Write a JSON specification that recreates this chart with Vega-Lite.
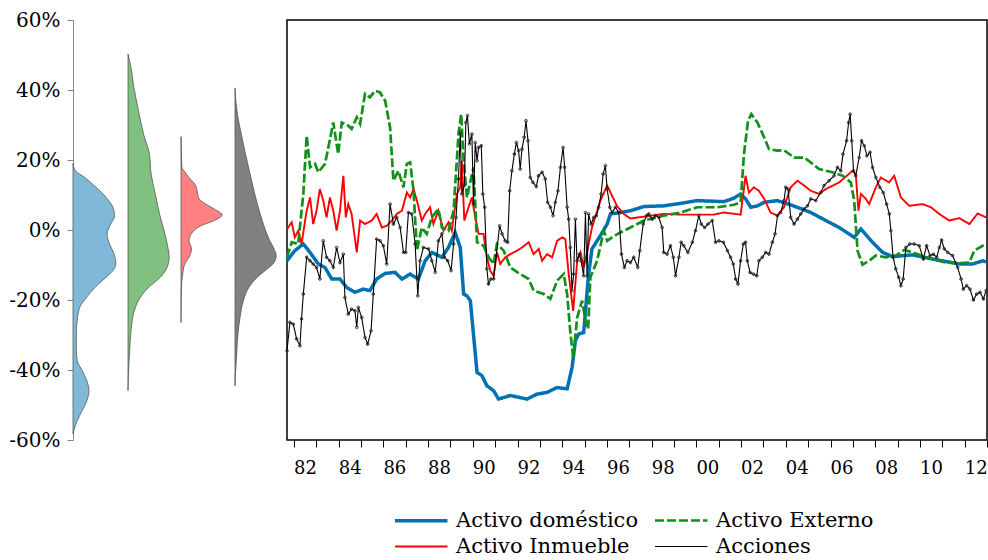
{
"$schema": "https://vega.github.io/schema/vega-lite/v6.json",
"padding": {"left": 8, "top": 10, "right": 0, "bottom": 0},
"background": "white",
"spacing": 0,
"bounds": "flush",
"config": {
  "font": "DejaVu Serif",
  "view": {"stroke": null},
  "axis": {"grid": false, "labelFont": "DejaVu Serif", "labelColor": "black"},
  "legend": {"labelFont": "DejaVu Serif"}
},
"datasets": {
  "vD": [{"v":-0.582,"d":0},{"v":-0.573,"d":0.02},{"v":-0.545,"d":0.10},{"v":-0.516,"d":0.22},{"v":-0.488,"d":0.33},{"v":-0.459,"d":0.38},{"v":-0.431,"d":0.33},{"v":-0.402,"d":0.22},{"v":-0.373,"d":0.10},{"v":-0.345,"d":0.08},{"v":-0.297,"d":0.08},{"v":-0.259,"d":0.10},{"v":-0.221,"d":0.16},{"v":-0.193,"d":0.32},{"v":-0.164,"d":0.52},{"v":-0.135,"d":0.79},{"v":-0.116,"d":0.95},{"v":-0.097,"d":1.02},{"v":-0.069,"d":0.98},{"v":-0.040,"d":0.87},{"v":-0.011,"d":0.81},{"v":0.017,"d":0.90},{"v":0.041,"d":0.99},{"v":0.065,"d":0.95},{"v":0.093,"d":0.79},{"v":0.122,"d":0.55},{"v":0.150,"d":0.28},{"v":0.169,"d":0.06},{"v":0.19,"d":0}],
  "vE": [{"v":-0.459,"d":0},{"v":-0.411,"d":0.01},{"v":-0.345,"d":0.04},{"v":-0.278,"d":0.08},{"v":-0.231,"d":0.15},{"v":-0.193,"d":0.29},{"v":-0.164,"d":0.49},{"v":-0.135,"d":0.77},{"v":-0.107,"d":0.93},{"v":-0.078,"d":0.98},{"v":-0.050,"d":0.95},{"v":-0.002,"d":0.86},{"v":0.046,"d":0.75},{"v":0.103,"d":0.65},{"v":0.160,"d":0.55},{"v":0.217,"d":0.51},{"v":0.274,"d":0.37},{"v":0.341,"d":0.25},{"v":0.407,"d":0.14},{"v":0.465,"d":0.07},{"v":0.503,"d":0}],
  "vI": [{"v":-0.264,"d":0},{"v":-0.164,"d":0.01},{"v":-0.126,"d":0.04},{"v":-0.097,"d":0.09},{"v":-0.078,"d":0.19},{"v":-0.054,"d":0.25},{"v":-0.031,"d":0.19},{"v":-0.007,"d":0.27},{"v":0.012,"d":0.47},{"v":0.027,"d":0.79},{"v":0.043,"d":0.98},{"v":0.060,"d":0.79},{"v":0.074,"d":0.59},{"v":0.089,"d":0.43},{"v":0.107,"d":0.39},{"v":0.127,"d":0.35},{"v":0.150,"d":0.19},{"v":0.169,"d":0.07},{"v":0.179,"d":0.02},{"v":0.227,"d":0.01},{"v":0.267,"d":0}],
  "vA": [{"v":-0.445,"d":0},{"v":-0.411,"d":0.01},{"v":-0.354,"d":0.04},{"v":-0.297,"d":0.07},{"v":-0.250,"d":0.12},{"v":-0.202,"d":0.20},{"v":-0.164,"d":0.33},{"v":-0.135,"d":0.53},{"v":-0.111,"d":0.77},{"v":-0.093,"d":0.93},{"v":-0.073,"d":0.98},{"v":-0.054,"d":0.93},{"v":-0.031,"d":0.83},{"v":-0.002,"d":0.73},{"v":0.046,"d":0.60},{"v":0.103,"d":0.47},{"v":0.160,"d":0.36},{"v":0.217,"d":0.25},{"v":0.274,"d":0.15},{"v":0.322,"d":0.07},{"v":0.369,"d":0.02},{"v":0.406,"d":0}],
  "ts": [
{"s":"D","t":1981.69,"v":-0.088},{"s":"D","t":1982.04,"v":-0.059},{"s":"D","t":1982.42,"v":-0.040},{"s":"D","t":1982.72,"v":-0.064},{"s":"D","t":1983.09,"v":-0.097},{"s":"D","t":1983.39,"v":-0.107},{"s":"D","t":1983.69,"v":-0.140},{"s":"D","t":1984.06,"v":-0.140},{"s":"D","t":1984.36,"v":-0.164},{"s":"D","t":1984.73,"v":-0.178},{"s":"D","t":1985.10,"v":-0.169},{"s":"D","t":1985.40,"v":-0.173},{"s":"D","t":1985.70,"v":-0.140},{"s":"D","t":1986.08,"v":-0.124},{"s":"D","t":1986.52,"v":-0.121},{"s":"D","t":1986.83,"v":-0.140},{"s":"D","t":1987.20,"v":-0.126},{"s":"D","t":1987.57,"v":-0.140},{"s":"D","t":1987.87,"v":-0.088},{"s":"D","t":1988.17,"v":-0.064},{"s":"D","t":1988.62,"v":-0.078},{"s":"D","t":1988.91,"v":-0.050},{"s":"D","t":1989.21,"v":-0.007},{"s":"D","t":1989.44,"v":-0.050},{"s":"D","t":1989.59,"v":-0.183},{"s":"D","t":1989.74,"v":-0.188},{"s":"D","t":1989.89,"v":-0.202},{"s":"D","t":1990.19,"v":-0.407},{"s":"D","t":1990.41,"v":-0.416},{"s":"D","t":1990.63,"v":-0.445},{"s":"D","t":1990.93,"v":-0.459},{"s":"D","t":1991.15,"v":-0.483},{"s":"D","t":1991.68,"v":-0.473},{"s":"D","t":1992.43,"v":-0.483},{"s":"D","t":1992.87,"v":-0.469},{"s":"D","t":1993.32,"v":-0.464},{"s":"D","t":1993.77,"v":-0.450},{"s":"D","t":1994.22,"v":-0.454},{"s":"D","t":1994.44,"v":-0.393},{"s":"D","t":1994.59,"v":-0.316},{"s":"D","t":1994.74,"v":-0.297},{"s":"D","t":1994.96,"v":-0.293},{"s":"D","t":1995.18,"v":-0.126},{"s":"D","t":1995.33,"v":-0.054},{"s":"D","t":1995.71,"v":-0.016},{"s":"D","t":1996.01,"v":0.017},{"s":"D","t":1996.16,"v":0.046},{"s":"D","t":1996.60,"v":0.050},{"s":"D","t":1997.05,"v":0.055},{"s":"D","t":1997.65,"v":0.067},{"s":"D","t":1998.54,"v":0.069},{"s":"D","t":1999.29,"v":0.076},{"s":"D","t":2000.04,"v":0.084},{"s":"D","t":2001.23,"v":0.081},{"s":"D","t":2001.68,"v":0.091},{"s":"D","t":2001.98,"v":0.103},{"s":"D","t":2002.20,"v":0.089},{"s":"D","t":2002.43,"v":0.065},{"s":"D","t":2002.73,"v":0.069},{"s":"D","t":2003.03,"v":0.079},{"s":"D","t":2003.62,"v":0.084},{"s":"D","t":2004.22,"v":0.072},{"s":"D","t":2005.12,"v":0.050},{"s":"D","t":2005.79,"v":0.027},{"s":"D","t":2006.39,"v":0.007},{"s":"D","t":2007.06,"v":-0.021},{"s":"D","t":2007.36,"v":0.003},{"s":"D","t":2007.88,"v":-0.035},{"s":"D","t":2008.33,"v":-0.064},{"s":"D","t":2008.78,"v":-0.076},{"s":"D","t":2009.67,"v":-0.071},{"s":"D","t":2010.57,"v":-0.083},{"s":"D","t":2011.76,"v":-0.097},{"s":"D","t":2012.36,"v":-0.097},{"s":"D","t":2012.81,"v":-0.088},{"s":"D","t":2012.96,"v":-0.091},
{"s":"I","t":1981.69,"v":0.003},{"s":"I","t":1981.90,"v":0.022},{"s":"I","t":1982.04,"v":-0.021},{"s":"I","t":1982.19,"v":-0.002},{"s":"I","t":1982.34,"v":-0.040},{"s":"I","t":1982.57,"v":0.055},{"s":"I","t":1982.72,"v":0.093},{"s":"I","t":1982.86,"v":0.017},{"s":"I","t":1983.01,"v":0.055},{"s":"I","t":1983.16,"v":0.117},{"s":"I","t":1983.31,"v":0.084},{"s":"I","t":1983.46,"v":0.036},{"s":"I","t":1983.61,"v":0.093},{"s":"I","t":1983.76,"v":0.055},{"s":"I","t":1983.91,"v":-0.002},{"s":"I","t":1984.06,"v":0.055},{"s":"I","t":1984.21,"v":0.155},{"s":"I","t":1984.32,"v":0.036},{"s":"I","t":1984.43,"v":0.074},{"s":"I","t":1984.58,"v":0.046},{"s":"I","t":1984.81,"v":-0.064},{"s":"I","t":1984.96,"v":0.027},{"s":"I","t":1985.18,"v":0.017},{"s":"I","t":1985.48,"v":0.027},{"s":"I","t":1985.70,"v":0.046},{"s":"I","t":1985.93,"v":0.007},{"s":"I","t":1986.15,"v":0.012},{"s":"I","t":1986.38,"v":0.027},{"s":"I","t":1986.60,"v":0.046},{"s":"I","t":1986.83,"v":0.055},{"s":"I","t":1987.05,"v":0.107},{"s":"I","t":1987.20,"v":0.093},{"s":"I","t":1987.35,"v":0.117},{"s":"I","t":1987.50,"v":0.084},{"s":"I","t":1987.72,"v":0.027},{"s":"I","t":1987.87,"v":0.046},{"s":"I","t":1988.09,"v":0.065},{"s":"I","t":1988.24,"v":0.017},{"s":"I","t":1988.46,"v":0.055},{"s":"I","t":1988.69,"v":-0.002},{"s":"I","t":1988.91,"v":0.022},{"s":"I","t":1989.06,"v":-0.002},{"s":"I","t":1989.29,"v":0.103},{"s":"I","t":1989.44,"v":0.122},{"s":"I","t":1989.51,"v":0.198},{"s":"I","t":1989.62,"v":0.027},{"s":"I","t":1989.81,"v":0.065},{"s":"I","t":1989.96,"v":0.093},{"s":"I","t":1990.11,"v":0.036},{"s":"I","t":1990.26,"v":-0.011},{"s":"I","t":1990.48,"v":-0.011},{"s":"I","t":1990.63,"v":-0.078},{"s":"I","t":1990.78,"v":-0.116},{"s":"I","t":1990.93,"v":-0.131},{"s":"I","t":1991.08,"v":-0.064},{"s":"I","t":1991.23,"v":-0.097},{"s":"I","t":1991.45,"v":-0.078},{"s":"I","t":1991.68,"v":-0.069},{"s":"I","t":1991.98,"v":-0.059},{"s":"I","t":1992.20,"v":-0.050},{"s":"I","t":1992.50,"v":-0.035},{"s":"I","t":1992.72,"v":-0.069},{"s":"I","t":1992.95,"v":-0.054},{"s":"I","t":1993.10,"v":-0.088},{"s":"I","t":1993.32,"v":-0.069},{"s":"I","t":1993.55,"v":-0.078},{"s":"I","t":1993.77,"v":-0.031},{"s":"I","t":1994.00,"v":-0.021},{"s":"I","t":1994.14,"v":-0.026},{"s":"I","t":1994.29,"v":-0.126},{"s":"I","t":1994.49,"v":-0.231},{"s":"I","t":1994.67,"v":-0.088},{"s":"I","t":1994.82,"v":-0.064},{"s":"I","t":1994.96,"v":-0.107},{"s":"I","t":1995.11,"v":-0.064},{"s":"I","t":1995.33,"v":0.007},{"s":"I","t":1995.71,"v":0.084},{"s":"I","t":1996.01,"v":0.127},{"s":"I","t":1996.23,"v":0.098},{"s":"I","t":1996.45,"v":0.069},{"s":"I","t":1996.75,"v":0.046},{"s":"I","t":1997.05,"v":0.033},{"s":"I","t":1997.65,"v":0.038},{"s":"I","t":1998.54,"v":0.046},{"s":"I","t":1999.29,"v":0.044},{"s":"I","t":2000.04,"v":0.044},{"s":"I","t":2000.78,"v":0.044},{"s":"I","t":2001.23,"v":0.050},{"s":"I","t":2001.98,"v":0.044},{"s":"I","t":2002.20,"v":0.155},{"s":"I","t":2002.35,"v":0.107},{"s":"I","t":2002.57,"v":0.122},{"s":"I","t":2002.80,"v":0.112},{"s":"I","t":2003.03,"v":0.089},{"s":"I","t":2003.32,"v":0.050},{"s":"I","t":2003.62,"v":0.041},{"s":"I","t":2003.92,"v":0.065},{"s":"I","t":2004.22,"v":0.122},{"s":"I","t":2004.52,"v":0.141},{"s":"I","t":2004.82,"v":0.127},{"s":"I","t":2005.12,"v":0.112},{"s":"I","t":2005.49,"v":0.103},{"s":"I","t":2005.79,"v":0.117},{"s":"I","t":2006.39,"v":0.136},{"s":"I","t":2006.98,"v":0.169},{"s":"I","t":2007.13,"v":0.160},{"s":"I","t":2007.25,"v":0.055},{"s":"I","t":2007.36,"v":0.103},{"s":"I","t":2007.58,"v":0.089},{"s":"I","t":2007.73,"v":0.074},{"s":"I","t":2008.03,"v":0.122},{"s":"I","t":2008.25,"v":0.150},{"s":"I","t":2008.62,"v":0.136},{"s":"I","t":2008.85,"v":0.155},{"s":"I","t":2009.15,"v":0.093},{"s":"I","t":2009.52,"v":0.069},{"s":"I","t":2010.12,"v":0.074},{"s":"I","t":2010.49,"v":0.065},{"s":"I","t":2010.86,"v":0.046},{"s":"I","t":2011.31,"v":0.027},{"s":"I","t":2011.76,"v":0.034},{"s":"I","t":2012.21,"v":0.017},{"s":"I","t":2012.58,"v":0.047},{"s":"I","t":2012.96,"v":0.036},
{"s":"E","t":1981.69,"v":-0.078},{"s":"E","t":1981.90,"v":-0.035},{"s":"E","t":1982.19,"v":-0.040},{"s":"E","t":1982.42,"v":0.103},{"s":"E","t":1982.57,"v":0.269},{"s":"E","t":1982.72,"v":0.179},{"s":"E","t":1982.94,"v":0.189},{"s":"E","t":1983.09,"v":0.165},{"s":"E","t":1983.39,"v":0.189},{"s":"E","t":1983.54,"v":0.236},{"s":"E","t":1983.76,"v":0.307},{"s":"E","t":1983.98,"v":0.217},{"s":"E","t":1984.14,"v":0.307},{"s":"E","t":1984.43,"v":0.298},{"s":"E","t":1984.58,"v":0.289},{"s":"E","t":1984.81,"v":0.322},{"s":"E","t":1984.96,"v":0.303},{"s":"E","t":1985.18,"v":0.389},{"s":"E","t":1985.40,"v":0.379},{"s":"E","t":1985.63,"v":0.398},{"s":"E","t":1985.85,"v":0.393},{"s":"E","t":1986.08,"v":0.369},{"s":"E","t":1986.30,"v":0.293},{"s":"E","t":1986.45,"v":0.141},{"s":"E","t":1986.67,"v":0.169},{"s":"E","t":1986.90,"v":0.122},{"s":"E","t":1987.05,"v":0.189},{"s":"E","t":1987.20,"v":0.193},{"s":"E","t":1987.35,"v":0.112},{"s":"E","t":1987.50,"v":-0.059},{"s":"E","t":1987.72,"v":0.007},{"s":"E","t":1987.94,"v":-0.011},{"s":"E","t":1988.17,"v":0.036},{"s":"E","t":1988.46,"v":0.060},{"s":"E","t":1988.62,"v":0.007},{"s":"E","t":1988.91,"v":-0.002},{"s":"E","t":1989.14,"v":0.055},{"s":"E","t":1989.36,"v":0.274},{"s":"E","t":1989.48,"v":0.331},{"s":"E","t":1989.59,"v":0.198},{"s":"E","t":1989.74,"v":0.093},{"s":"E","t":1990.03,"v":0.179},{"s":"E","t":1990.19,"v":-0.035},{"s":"E","t":1990.48,"v":-0.045},{"s":"E","t":1990.71,"v":-0.078},{"s":"E","t":1990.93,"v":-0.097},{"s":"E","t":1991.08,"v":-0.040},{"s":"E","t":1991.38,"v":-0.059},{"s":"E","t":1991.68,"v":-0.107},{"s":"E","t":1992.13,"v":-0.126},{"s":"E","t":1992.50,"v":-0.140},{"s":"E","t":1992.72,"v":-0.173},{"s":"E","t":1993.17,"v":-0.183},{"s":"E","t":1993.47,"v":-0.197},{"s":"E","t":1993.77,"v":-0.145},{"s":"E","t":1994.07,"v":-0.126},{"s":"E","t":1994.22,"v":-0.183},{"s":"E","t":1994.37,"v":-0.297},{"s":"E","t":1994.49,"v":-0.364},{"s":"E","t":1994.67,"v":-0.250},{"s":"E","t":1994.89,"v":-0.202},{"s":"E","t":1995.04,"v":-0.259},{"s":"E","t":1995.16,"v":-0.283},{"s":"E","t":1995.26,"v":-0.135},{"s":"E","t":1995.56,"v":-0.088},{"s":"E","t":1995.86,"v":-0.002},{"s":"E","t":1996.01,"v":-0.031},{"s":"E","t":1996.23,"v":-0.021},{"s":"E","t":1996.60,"v":-0.007},{"s":"E","t":1997.05,"v":0.007},{"s":"E","t":1997.65,"v":0.027},{"s":"E","t":1998.54,"v":0.041},{"s":"E","t":1999.29,"v":0.050},{"s":"E","t":2000.04,"v":0.065},{"s":"E","t":2000.94,"v":0.065},{"s":"E","t":2001.68,"v":0.072},{"s":"E","t":2001.98,"v":0.079},{"s":"E","t":2002.13,"v":0.217},{"s":"E","t":2002.31,"v":0.312},{"s":"E","t":2002.46,"v":0.331},{"s":"E","t":2002.73,"v":0.307},{"s":"E","t":2003.03,"v":0.265},{"s":"E","t":2003.25,"v":0.231},{"s":"E","t":2003.62,"v":0.227},{"s":"E","t":2003.92,"v":0.228},{"s":"E","t":2004.37,"v":0.207},{"s":"E","t":2004.82,"v":0.207},{"s":"E","t":2005.12,"v":0.193},{"s":"E","t":2005.49,"v":0.174},{"s":"E","t":2006.09,"v":0.165},{"s":"E","t":2006.54,"v":0.155},{"s":"E","t":2006.91,"v":0.136},{"s":"E","t":2007.06,"v":0.084},{"s":"E","t":2007.21,"v":-0.059},{"s":"E","t":2007.43,"v":-0.099},{"s":"E","t":2007.73,"v":-0.088},{"s":"E","t":2008.03,"v":-0.073},{"s":"E","t":2008.48,"v":-0.078},{"s":"E","t":2008.93,"v":-0.073},{"s":"E","t":2009.30,"v":-0.057},{"s":"E","t":2009.67,"v":-0.064},{"s":"E","t":2010.27,"v":-0.078},{"s":"E","t":2011.16,"v":-0.093},{"s":"E","t":2011.76,"v":-0.095},{"s":"E","t":2012.21,"v":-0.093},{"s":"E","t":2012.43,"v":-0.059},{"s":"E","t":2012.81,"v":-0.045},{"s":"E","t":2012.96,"v":-0.040},
{"s":"A","t":1981.69,"v":-0.345},{"s":"A","t":1981.82,"v":-0.264},{"s":"A","t":1981.97,"v":-0.269},{"s":"A","t":1982.12,"v":-0.311},{"s":"A","t":1982.27,"v":-0.331},{"s":"A","t":1982.34,"v":-0.254},{"s":"A","t":1982.42,"v":-0.183},{"s":"A","t":1982.57,"v":-0.078},{"s":"A","t":1982.72,"v":-0.088},{"s":"A","t":1982.86,"v":-0.097},{"s":"A","t":1983.01,"v":-0.107},{"s":"A","t":1983.16,"v":-0.140},{"s":"A","t":1983.31,"v":-0.031},{"s":"A","t":1983.46,"v":-0.078},{"s":"A","t":1983.61,"v":-0.088},{"s":"A","t":1983.76,"v":-0.107},{"s":"A","t":1983.91,"v":-0.050},{"s":"A","t":1984.06,"v":-0.093},{"s":"A","t":1984.21,"v":-0.069},{"s":"A","t":1984.28,"v":-0.193},{"s":"A","t":1984.43,"v":-0.240},{"s":"A","t":1984.58,"v":-0.226},{"s":"A","t":1984.73,"v":-0.231},{"s":"A","t":1984.81,"v":-0.278},{"s":"A","t":1984.88,"v":-0.221},{"s":"A","t":1985.03,"v":-0.250},{"s":"A","t":1985.18,"v":-0.307},{"s":"A","t":1985.30,"v":-0.326},{"s":"A","t":1985.45,"v":-0.288},{"s":"A","t":1985.55,"v":-0.183},{"s":"A","t":1985.70,"v":-0.026},{"s":"A","t":1985.85,"v":-0.031},{"s":"A","t":1986.00,"v":-0.045},{"s":"A","t":1986.15,"v":-0.097},{"s":"A","t":1986.30,"v":0.074},{"s":"A","t":1986.45,"v":0.017},{"s":"A","t":1986.60,"v":0.036},{"s":"A","t":1986.75,"v":0.007},{"s":"A","t":1986.90,"v":-0.064},{"s":"A","t":1987.00,"v":-0.064},{"s":"A","t":1987.12,"v":0.050},{"s":"A","t":1987.27,"v":0.046},{"s":"A","t":1987.42,"v":-0.040},{"s":"A","t":1987.54,"v":-0.188},{"s":"A","t":1987.64,"v":-0.088},{"s":"A","t":1987.79,"v":-0.050},{"s":"A","t":1988.02,"v":-0.054},{"s":"A","t":1988.17,"v":-0.088},{"s":"A","t":1988.32,"v":-0.121},{"s":"A","t":1988.46,"v":-0.031},{"s":"A","t":1988.62,"v":-0.011},{"s":"A","t":1988.73,"v":-0.078},{"s":"A","t":1988.88,"v":-0.088},{"s":"A","t":1989.03,"v":-0.116},{"s":"A","t":1989.14,"v":-0.040},{"s":"A","t":1989.25,"v":0.036},{"s":"A","t":1989.36,"v":0.146},{"s":"A","t":1989.44,"v":0.279},{"s":"A","t":1989.51,"v":0.103},{"s":"A","t":1989.62,"v":0.127},{"s":"A","t":1989.69,"v":0.307},{"s":"A","t":1989.76,"v":0.327},{"s":"A","t":1989.85,"v":0.246},{"s":"A","t":1989.96,"v":0.274},{"s":"A","t":1990.03,"v":0.074},{"s":"A","t":1990.11,"v":0.250},{"s":"A","t":1990.19,"v":0.198},{"s":"A","t":1990.26,"v":0.236},{"s":"A","t":1990.38,"v":0.241},{"s":"A","t":1990.45,"v":0.103},{"s":"A","t":1990.53,"v":0.065},{"s":"A","t":1990.63,"v":-0.111},{"s":"A","t":1990.70,"v":-0.154},{"s":"A","t":1990.81,"v":-0.140},{"s":"A","t":1990.93,"v":-0.140},{"s":"A","t":1991.05,"v":-0.073},{"s":"A","t":1991.20,"v":0.012},{"s":"A","t":1991.31,"v":-0.011},{"s":"A","t":1991.45,"v":-0.031},{"s":"A","t":1991.56,"v":-0.035},{"s":"A","t":1991.65,"v":0.112},{"s":"A","t":1991.75,"v":0.169},{"s":"A","t":1991.86,"v":0.217},{"s":"A","t":1991.95,"v":0.250},{"s":"A","t":1992.05,"v":0.227},{"s":"A","t":1992.12,"v":0.174},{"s":"A","t":1992.20,"v":0.231},{"s":"A","t":1992.30,"v":0.265},{"s":"A","t":1992.38,"v":0.312},{"s":"A","t":1992.47,"v":0.255},{"s":"A","t":1992.57,"v":0.150},{"s":"A","t":1992.69,"v":0.136},{"s":"A","t":1992.84,"v":0.124},{"s":"A","t":1992.94,"v":0.155},{"s":"A","t":1993.10,"v":0.165},{"s":"A","t":1993.24,"v":0.146},{"s":"A","t":1993.35,"v":0.079},{"s":"A","t":1993.47,"v":0.065},{"s":"A","t":1993.59,"v":0.041},{"s":"A","t":1993.69,"v":0.079},{"s":"A","t":1993.81,"v":0.112},{"s":"A","t":1993.92,"v":0.179},{"s":"A","t":1994.04,"v":0.236},{"s":"A","t":1994.11,"v":0.179},{"s":"A","t":1994.22,"v":0.065},{"s":"A","t":1994.29,"v":0.031},{"s":"A","t":1994.36,"v":-0.050},{"s":"A","t":1994.44,"v":-0.173},{"s":"A","t":1994.51,"v":-0.126},{"s":"A","t":1994.59,"v":0.031},{"s":"A","t":1994.66,"v":-0.088},{"s":"A","t":1994.77,"v":-0.069},{"s":"A","t":1994.84,"v":-0.088},{"s":"A","t":1994.96,"v":-0.131},{"s":"A","t":1995.04,"v":0.050},{"s":"A","t":1995.11,"v":-0.131},{"s":"A","t":1995.18,"v":0.046},{"s":"A","t":1995.29,"v":0.017},{"s":"A","t":1995.41,"v":0.036},{"s":"A","t":1995.53,"v":0.041},{"s":"A","t":1995.63,"v":0.065},{"s":"A","t":1995.74,"v":0.103},{"s":"A","t":1995.83,"v":0.160},{"s":"A","t":1995.93,"v":0.184},{"s":"A","t":1996.01,"v":0.117},{"s":"A","t":1996.13,"v":0.065},{"s":"A","t":1996.23,"v":0.050},{"s":"A","t":1996.38,"v":0.065},{"s":"A","t":1996.53,"v":0.050},{"s":"A","t":1996.65,"v":-0.069},{"s":"A","t":1996.78,"v":-0.107},{"s":"A","t":1996.90,"v":-0.088},{"s":"A","t":1997.05,"v":-0.093},{"s":"A","t":1997.20,"v":-0.078},{"s":"A","t":1997.38,"v":-0.107},{"s":"A","t":1997.47,"v":-0.059},{"s":"A","t":1997.62,"v":0.017},{"s":"A","t":1997.77,"v":0.041},{"s":"A","t":1997.87,"v":0.046},{"s":"A","t":1998.02,"v":0.031},{"s":"A","t":1998.17,"v":0.041},{"s":"A","t":1998.32,"v":0.036},{"s":"A","t":1998.47,"v":0.007},{"s":"A","t":1998.54,"v":-0.064},{"s":"A","t":1998.69,"v":-0.069},{"s":"A","t":1998.84,"v":-0.045},{"s":"A","t":1998.97,"v":-0.078},{"s":"A","t":1999.07,"v":-0.131},{"s":"A","t":1999.22,"v":-0.078},{"s":"A","t":1999.32,"v":-0.035},{"s":"A","t":1999.44,"v":-0.045},{"s":"A","t":1999.62,"v":-0.064},{"s":"A","t":1999.82,"v":-0.035},{"s":"A","t":1999.96,"v":-0.002},{"s":"A","t":2000.11,"v":0.041},{"s":"A","t":2000.22,"v":0.017},{"s":"A","t":2000.37,"v":0.007},{"s":"A","t":2000.52,"v":0.017},{"s":"A","t":2000.71,"v":0.027},{"s":"A","t":2000.86,"v":-0.035},{"s":"A","t":2001.01,"v":-0.031},{"s":"A","t":2001.21,"v":-0.035},{"s":"A","t":2001.39,"v":-0.059},{"s":"A","t":2001.53,"v":-0.078},{"s":"A","t":2001.65,"v":-0.097},{"s":"A","t":2001.76,"v":-0.140},{"s":"A","t":2001.86,"v":-0.154},{"s":"A","t":2001.98,"v":-0.088},{"s":"A","t":2002.10,"v":-0.040},{"s":"A","t":2002.20,"v":-0.035},{"s":"A","t":2002.28,"v":-0.088},{"s":"A","t":2002.40,"v":-0.121},{"s":"A","t":2002.55,"v":-0.126},{"s":"A","t":2002.70,"v":-0.131},{"s":"A","t":2002.80,"v":-0.088},{"s":"A","t":2002.95,"v":-0.078},{"s":"A","t":2003.10,"v":-0.064},{"s":"A","t":2003.25,"v":-0.069},{"s":"A","t":2003.40,"v":-0.035},{"s":"A","t":2003.52,"v":-0.011},{"s":"A","t":2003.63,"v":0.041},{"s":"A","t":2003.77,"v":0.050},{"s":"A","t":2003.92,"v":0.084},{"s":"A","t":2004.00,"v":0.122},{"s":"A","t":2004.10,"v":0.117},{"s":"A","t":2004.22,"v":0.036},{"s":"A","t":2004.37,"v":0.017},{"s":"A","t":2004.52,"v":0.031},{"s":"A","t":2004.67,"v":0.046},{"s":"A","t":2004.82,"v":0.060},{"s":"A","t":2004.97,"v":0.069},{"s":"A","t":2005.12,"v":0.089},{"s":"A","t":2005.34,"v":0.084},{"s":"A","t":2005.56,"v":0.107},{"s":"A","t":2005.71,"v":0.127},{"s":"A","t":2005.94,"v":0.141},{"s":"A","t":2006.16,"v":0.155},{"s":"A","t":2006.31,"v":0.179},{"s":"A","t":2006.46,"v":0.169},{"s":"A","t":2006.56,"v":0.217},{"s":"A","t":2006.72,"v":0.255},{"s":"A","t":2006.81,"v":0.307},{"s":"A","t":2006.88,"v":0.331},{"s":"A","t":2006.95,"v":0.255},{"s":"A","t":2007.03,"v":0.169},{"s":"A","t":2007.13,"v":0.155},{"s":"A","t":2007.28,"v":0.207},{"s":"A","t":2007.39,"v":0.255},{"s":"A","t":2007.51,"v":0.241},{"s":"A","t":2007.63,"v":0.212},{"s":"A","t":2007.77,"v":0.222},{"s":"A","t":2007.88,"v":0.179},{"s":"A","t":2008.03,"v":0.150},{"s":"A","t":2008.21,"v":0.122},{"s":"A","t":2008.36,"v":0.107},{"s":"A","t":2008.51,"v":0.074},{"s":"A","t":2008.63,"v":0.046},{"s":"A","t":2008.70,"v":-0.002},{"s":"A","t":2008.80,"v":-0.078},{"s":"A","t":2008.92,"v":-0.111},{"s":"A","t":2009.05,"v":-0.135},{"s":"A","t":2009.15,"v":-0.159},{"s":"A","t":2009.25,"v":-0.140},{"s":"A","t":2009.37,"v":-0.050},{"s":"A","t":2009.55,"v":-0.040},{"s":"A","t":2009.74,"v":-0.040},{"s":"A","t":2009.97,"v":-0.045},{"s":"A","t":2010.15,"v":-0.083},{"s":"A","t":2010.30,"v":-0.045},{"s":"A","t":2010.45,"v":-0.073},{"s":"A","t":2010.60,"v":-0.069},{"s":"A","t":2010.75,"v":-0.078},{"s":"A","t":2010.87,"v":-0.050},{"s":"A","t":2010.97,"v":-0.029},{"s":"A","t":2011.09,"v":-0.054},{"s":"A","t":2011.24,"v":-0.064},{"s":"A","t":2011.46,"v":-0.073},{"s":"A","t":2011.69,"v":-0.107},{"s":"A","t":2011.84,"v":-0.140},{"s":"A","t":2011.94,"v":-0.169},{"s":"A","t":2012.09,"v":-0.159},{"s":"A","t":2012.24,"v":-0.169},{"s":"A","t":2012.39,"v":-0.200},{"s":"A","t":2012.54,"v":-0.183},{"s":"A","t":2012.69,"v":-0.178},{"s":"A","t":2012.84,"v":-0.197},{"s":"A","t":2012.96,"v":-0.173}
  ]
},
"hconcat": [
  {
    "width": 55, "height": 420,
    "data": {"name": "vD"},
    "mark": {"type": "area", "orient": "horizontal", "interpolate": "monotone", "fill": "#7fb8d8", "stroke": "#555555", "strokeWidth": 0.8},
    "encoding": {
      "y": {"field": "v", "type": "quantitative", "scale": {"domain": [-0.6, 0.6], "nice": false, "zero": false},
        "axis": {"title": null, "values": [-0.6, -0.4, -0.2, 0, 0.2, 0.4, 0.6], "labelExpr": "(datum.value < 0 ? '-' : '') + format(abs(datum.value), '.0%')", "domainColor": "#888888", "tickColor": "#888888", "tickSize": 6, "labelFontSize": 20, "labelPadding": 7, "labelFlush": false, "labelOverlap": false}},
      "x": {"field": "d", "type": "quantitative", "scale": {"domain": [0, 1.31], "nice": false}, "axis": null}
    }
  },
  {
    "width": 53, "height": 420,
    "data": {"name": "vE"},
    "mark": {"type": "area", "orient": "horizontal", "interpolate": "monotone", "fill": "#80c080", "stroke": "#555555", "strokeWidth": 0.8},
    "encoding": {
      "y": {"field": "v", "type": "quantitative", "scale": {"domain": [-0.6, 0.6], "nice": false, "zero": false}, "axis": null},
      "x": {"field": "d", "type": "quantitative", "scale": {"domain": [0, 1.262], "nice": false}, "axis": null}
    }
  },
  {
    "width": 54, "height": 420,
    "data": {"name": "vI"},
    "mark": {"type": "area", "orient": "horizontal", "interpolate": "monotone", "fill": "#ff8080", "stroke": "#555555", "strokeWidth": 0.8},
    "encoding": {
      "y": {"field": "v", "type": "quantitative", "scale": {"domain": [-0.6, 0.6], "nice": false, "zero": false}, "axis": null},
      "x": {"field": "d", "type": "quantitative", "scale": {"domain": [0, 1.286], "nice": false}, "axis": null}
    }
  },
  {
    "width": 52, "height": 420,
    "data": {"name": "vA"},
    "mark": {"type": "area", "orient": "horizontal", "interpolate": "monotone", "fill": "#808080", "stroke": "#555555", "strokeWidth": 0.8},
    "encoding": {
      "y": {"field": "v", "type": "quantitative", "scale": {"domain": [-0.6, 0.6], "nice": false, "zero": false}, "axis": null},
      "x": {"field": "d", "type": "quantitative", "scale": {"domain": [0, 1.238], "nice": false}, "axis": null}
    }
  },
  {
    "width": 700, "height": 420,
    "view": {"stroke": "black", "strokeWidth": 1.5},
    "data": {"name": "ts"},
    "encoding": {
      "x": {"field": "t", "type": "quantitative", "scale": {"domain": [1981.69, 2013], "nice": false, "zero": false},
        "axis": {"title": null, "values": [1982,1983,1984,1985,1986,1987,1988,1989,1990,1991,1992,1993,1994,1995,1996,1997,1998,1999,2000,2001,2002,2003,2004,2005,2006,2007,2008,2009,2010,2011,2012,2013], "labelExpr": "datum.value % 2 == 0 && datum.value < 2013 ? substring(toString(datum.value), 2, 4) : ''", "labelOffset": 11, "tickSize": 7, "tickColor": "black", "domain": false, "labelFontSize": 18, "labelPadding": 12, "labelFlush": false, "labelOverlap": false}},
      "y": {"field": "v", "type": "quantitative", "scale": {"domain": [-0.6, 0.6], "nice": false, "zero": false}, "axis": null}
    },
    "layer": [
      {
        "mark": {"type": "line"},
        "encoding": {
          "color": {"field": "s", "type": "nominal", "scale": {"domain": ["D", "E", "I", "A"], "range": ["#0072B2", "#12901a", "#ff0000", "#000000"]},
            "legend": {"title": null, "orient": "none", "legendX": 320, "legendY": 488, "direction": "horizontal", "columns": 2, "symbolType": "M-1,0H4", "symbolSize": 441, "labelFontSize": 21, "labelColor": "black", "labelOffset": 38, "columnPadding": 10, "rowPadding": 4, "padding": 0, "labelLimit": 400, "labelExpr": "datum.value == 'D' ? 'Activo doméstico' : datum.value == 'E' ? 'Activo Externo' : datum.value == 'I' ? 'Activo Inmueble' : 'Acciones'"}},
          "strokeDash": {"field": "s", "type": "nominal", "scale": {"domain": ["D", "E", "I", "A"], "range": [[1, 0], [9, 3], [1, 0], [1, 0]]},
            "legend": {"title": null, "orient": "none", "legendX": 320, "legendY": 488, "direction": "horizontal", "columns": 2, "symbolType": "M-1,0H4", "symbolSize": 441, "labelFontSize": 21, "labelColor": "black", "labelOffset": 38, "columnPadding": 10, "rowPadding": 4, "padding": 0, "labelLimit": 400, "labelExpr": "datum.value == 'D' ? 'Activo doméstico' : datum.value == 'E' ? 'Activo Externo' : datum.value == 'I' ? 'Activo Inmueble' : 'Acciones'"}},
          "strokeWidth": {"field": "s", "type": "nominal", "scale": {"domain": ["D", "E", "I", "A"], "range": [3.5, 1.1, 1.2, 1]},
            "legend": {"title": null, "orient": "none", "legendX": 320, "legendY": 488, "direction": "horizontal", "columns": 2, "symbolType": "M-1,0H4", "symbolSize": 441, "labelFontSize": 21, "labelColor": "black", "labelOffset": 38, "columnPadding": 10, "rowPadding": 4, "padding": 0, "labelLimit": 400, "labelExpr": "datum.value == 'D' ? 'Activo doméstico' : datum.value == 'E' ? 'Activo Externo' : datum.value == 'I' ? 'Activo Inmueble' : 'Acciones'"}}
        }
      },
      {
        "transform": [{"filter": "datum.s == 'A'"}],
        "mark": {"type": "point", "filled": false, "size": 7, "strokeWidth": 0.9, "color": "#222222", "opacity": 1},
        "encoding": {}
      }
    ]
  }
]
}
